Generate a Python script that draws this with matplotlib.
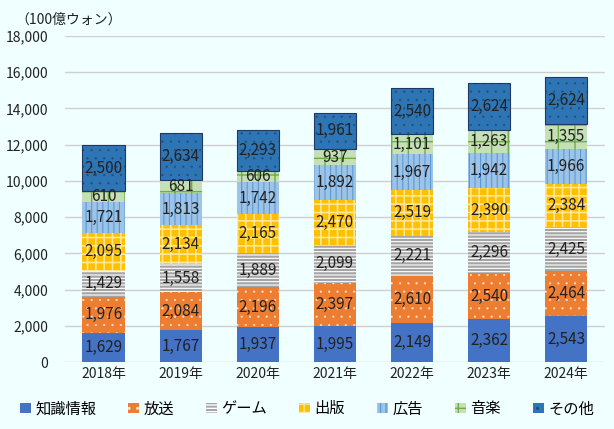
import numpy as np
import matplotlib
matplotlib.use('Agg')
import matplotlib.pyplot as plt

plt.rcParams['font.family'] = ['Noto Sans CJK JP', 'DejaVu Sans']

years = ['2018年', '2019年', '2020年', '2021年', '2022年', '2023年', '2024年']
names = ['知識情報', '放送', 'ゲーム', '出版', '広告', '音楽', 'その他']
knowledge = [1629, 1767, 1937, 1995, 2149, 2362, 2543]
broadcast = [1976, 2084, 2196, 2397, 2610, 2540, 2464]
game = [1429, 1558, 1889, 2099, 2221, 2296, 2425]
publish = [2095, 2134, 2165, 2470, 2519, 2390, 2384]
advert = [1721, 1813, 1742, 1892, 1967, 1942, 1966]
music = [610, 681, 606, 937, 1101, 1263, 1355]
other = [2500, 2634, 2293, 1961, 2540, 2624, 2624]
series = [knowledge, broadcast, game, publish, advert, music, other]

faces = ['#4472C4', '#ED7D31', '#A5A5A5', '#FFC000', '#9DC3E6', '#C5E0B4', '#2E75B6']
hatchcols = ['#4472C4', '#FBE0CF', '#FFFFFF', '#FFE699', '#5B9BD5', '#70AD47', '#1F4E79']
hatches = [None, '..', '-----', '++', '|||', '+', '..']
hatchlw = [1.0, 0.35, 0.8, 1.2, 0.8, 1.0, 0.35]
bg = '#F0FFFF'

fig = plt.figure(figsize=(6.14, 4.29), dpi=100, facecolor=bg)
ax = fig.add_axes([0.106, 0.156, 0.879, 0.76])
ax.set_facecolor(bg)

x = np.arange(len(years))
bottom = np.zeros(len(years))
handles = []
for i in range(len(series)):
    vals = np.array(series[i])
    with plt.rc_context({'hatch.linewidth': hatchlw[i]}):
        b = ax.bar(x, vals, 0.55, bottom=bottom, color=faces[i], edgecolor=hatchcols[i],
                   hatch=hatches[i], linewidth=0, zorder=3)
    if i == 6:
        ax.bar(x, vals, 0.55, bottom=bottom, fill=False, edgecolor='#1F3864', linewidth=0.8, zorder=4)
    handles.append(b)
    for j in range(len(vals)):
        ax.text(x[j], bottom[j] + vals[j] / 2, f'{vals[j]:,}', ha='center', va='center',
                fontsize=11, color='#222222', zorder=5)
    bottom += vals

ax.set_ylim(0, 18000)
ax.set_xlim(-0.5, len(years) - 0.5)
ax.set_yticks(np.arange(0, 18001, 2000))
ax.set_yticklabels([f'{v:,}' for v in range(0, 18001, 2000)])
ax.set_xticks(x)
ax.set_xticklabels(years)
ax.tick_params(length=0, labelsize=10, colors='#222222')
ax.tick_params(axis='y', pad=12)
ax.grid(axis='y', color='#D0D0D0', linewidth=1, zorder=0)
for s in ax.spines.values():
    s.set_visible(False)

fig.text(0.025, 0.955, '（100億ウォン）', fontsize=10, color='#222222', va='center')

leg = fig.legend(handles, names, loc='lower center', bbox_to_anchor=(0.5, -0.005), ncol=7,
                 frameon=False, fontsize=11, handlelength=0.7, handleheight=0.7,
                 handletextpad=0.3, columnspacing=2.1)

fig.savefig('out.png', dpi=100, facecolor=bg)
